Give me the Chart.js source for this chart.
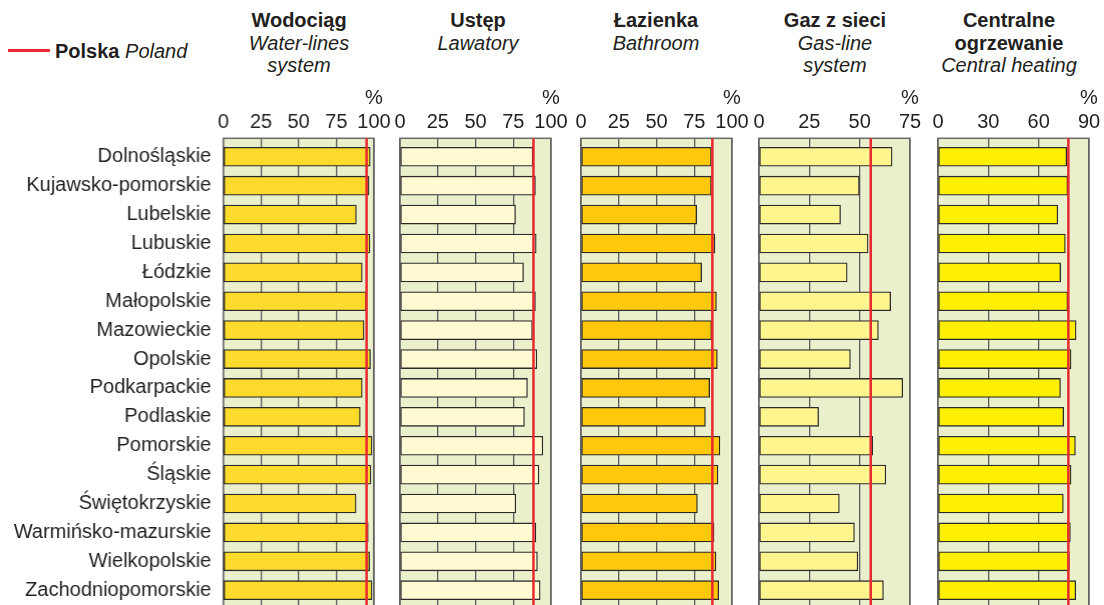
<!DOCTYPE html>
<html>
<head>
<meta charset="utf-8">
<script src="https://cdn.jsdelivr.net/npm/chart.js@4/dist/chart.umd.min.js"></script>
<style>
  html, body { margin: 0; padding: 0; background: #fff; }
  #wrap { position: relative; width: 1104px; height: 605px; overflow: hidden; font-family: "Liberation Sans", Arial, sans-serif; color: #231f20; }
  .title { position: absolute; top: 9px; width: 220px; text-align: center; font-size: 20px; line-height: 22.5px; }
  .title b { font-weight: bold; }
  .title i { font-style: italic; }
  .cv { position: absolute; top: 0; }
  #legend { position: absolute; left: 8px; top: 39px; font-size: 20px; line-height: 24px; white-space: nowrap; }
  #legend .ln { display: inline-block; width: 42px; height: 2.5px; background: #e8282e; vertical-align: middle; margin-right: 5px; position: relative; top: -2px; }
</style>
</head>
<body>
<div id="wrap">
  <div id="legend"><span class="ln"></span><b>Polska</b> <i>Poland</i></div>
  <div class="title" style="left:189px"><b>Wodociąg</b><br><i>Water-lines<br>system</i></div>
  <div class="title" style="left:368px"><b>Ustęp</b><br><i>Lawatory</i></div>
  <div class="title" style="left:546px"><b>Łazienka</b><br><i>Bathroom</i></div>
  <div class="title" style="left:725px"><b>Gaz z sieci</b><br><i>Gas-line<br>system</i></div>
  <div class="title" style="left:899px"><b>Centralne<br>ogrzewanie</b><br><i>Central heating</i></div>
  <canvas id="c1" class="cv"></canvas>
  <canvas id="c2" class="cv"></canvas>
  <canvas id="c3" class="cv"></canvas>
  <canvas id="c4" class="cv"></canvas>
  <canvas id="c5" class="cv"></canvas>
</div>
<script>
// ---- data ----
const regions = ["Dolnośląskie","Kujawsko-pomorskie","Lubelskie","Lubuskie","Łódzkie","Małopolskie","Mazowieckie","Opolskie","Podkarpackie","Podlaskie","Pomorskie","Śląskie","Świętokrzyskie","Warmińsko-mazurskie","Wielkopolskie","Zachodniopomorskie"];
const waterLines = [97.5,96.7,88.3,97.3,92.2,94.9,93.4,97.7,92.2,90.9,98.7,98.0,88.1,96.2,97.1,98.7];
const lavatory   = [88.0,89.7,76.5,90.2,81.8,89.7,87.7,90.6,84.4,82.4,94.6,92.0,76.7,90.0,91.0,92.8];
const bathroom   = [86.3,86.3,76.6,88.7,79.9,89.7,86.5,90.3,85.2,82.4,92.0,90.7,77.1,88.1,89.4,91.2];
const gasLine    = [66.1,49.8,40.5,54.2,43.8,65.4,59.3,45.4,71.4,29.6,56.5,63.0,39.9,47.4,49.1,61.8];
const centralHeating = [76.7,77.3,71.4,75.9,73.1,77.3,82.3,79.3,73.0,74.9,81.9,79.3,74.7,78.9,78.3,82.1];
const polska = { water: 95.1, lavatory: 88.4, bathroom: 87.0, gas: 55.5, heating: 77.7 };
const tickLabels = {
  water: [0,25,50,75,100],
  lavatory: [0,25,50,75,100],
  bathroom: [0,25,50,75,100],
  gas: [0,25,50,75],
  heating: [0,30,60,90]
};

const FONT = "'Liberation Sans', Arial, sans-serif";
const TXT = '#231f20';

const areaPlugin = {
  id: 'areaPlugin',
  beforeDraw(chart) {
    const a = chart.chartArea, ctx = chart.ctx;
    ctx.save();
    ctx.fillStyle = '#eaefcc';
    ctx.fillRect(a.left, a.top, a.right - a.left, a.bottom - a.top);
    ctx.restore();
  },
  beforeDatasetsDraw(chart) {
    const a = chart.chartArea, ctx = chart.ctx;
    ctx.save();
    ctx.strokeStyle = '#6b6b6b';
    ctx.lineWidth = 1.5;
    ctx.strokeRect(a.left, a.top, a.right - a.left, a.bottom - a.top);
    ctx.restore();
  },
  afterDatasetsDraw(chart, args, opts) {
    const a = chart.chartArea, ctx = chart.ctx;
    const x = chart.scales.x.getPixelForValue(opts.value);
    ctx.save();
    ctx.strokeStyle = '#e8282e';
    ctx.lineWidth = 2.5;
    ctx.beginPath();
    ctx.moveTo(x, a.top);
    ctx.lineTo(x, a.bottom);
    ctx.stroke();
    ctx.restore();
  }
};

function makePanel(id, values, color, ticks, refValue, areaLeft, showLabels) {
  const areaWidth = 151;
  const padL = showLabels ? 0 : 14;
  const padR = 24;
  const yAxisW = showLabels ? areaLeft : 0;
  const canvasLeft = showLabels ? 0 : areaLeft - padL;
  const width = yAxisW + padL + areaWidth + padR;
  const height = showLabels ? 635 : 611;
  const cv = document.getElementById(id);
  cv.style.left = canvasLeft + 'px';
  cv.style.width = width + 'px';
  cv.style.height = height + 'px';
  cv.width = width; cv.height = height;
  const maxV = ticks[ticks.length - 1];
  new Chart(cv, {
    type: 'bar',
    data: {
      datasets: [{
        data: values.map((v, i) => ({ x: v, y: i })),
        backgroundColor: color,
        borderColor: '#2b2b2b',
        borderWidth: 1.3,
        borderSkipped: false,
        barThickness: 19
      }]
    },
    options: {
      indexAxis: 'y',
      responsive: false,
      animation: false,
      devicePixelRatio: 1,
      layout: { padding: { left: padL, right: padR, top: 0, bottom: 0 } },
      plugins: { legend: { display: false }, tooltip: { enabled: false }, areaPlugin: { value: refValue } },
      scales: {
        x: {
          type: 'linear', position: 'top', min: 0, max: maxV,
          afterFit(s) { s.height = 138.3; },
          afterBuildTicks(s) { s.ticks = ticks.map(v => ({ value: v })); },
          grid: { color: '#5a5a5a', lineWidth: 1.3, drawTicks: false },
          border: { display: false },
          ticks: {
            padding: 4, color: TXT, font: { family: FONT, size: 20 }, maxRotation: 0, autoSkip: false,
            callback: (v) => v === maxV ? ['%', String(v)] : String(v)
          }
        },
        y: {
          type: 'linear', reverse: true, min: -0.64, max: 15.72, offset: false, bounds: 'data',
          display: showLabels,
          afterFit(s) { if (showLabels) s.width = yAxisW; },
          afterBuildTicks(s) { s.ticks = regions.map((_, i) => ({ value: i })); },
          grid: { display: false, drawTicks: false, offset: false },
          border: { display: false },
          ticks: {
            padding: 12, color: TXT, font: { family: FONT, size: 20 }, autoSkip: false,
            callback: (v) => regions[v] ?? ''
          }
        }
      }
    },
    plugins: [areaPlugin]
  });
}

makePanel('c1', waterLines, '#fddb2c', tickLabels.water, polska.water, 222.7, true);
makePanel('c2', lavatory, '#fffad2', tickLabels.lavatory, polska.lavatory, 400, false);
makePanel('c3', bathroom, '#ffc80a', tickLabels.bathroom, polska.bathroom, 581.4, false);
makePanel('c4', gasLine, '#fff58f', tickLabels.gas, polska.gas, 759.4, false);
makePanel('c5', centralHeating, '#ffef00', tickLabels.heating, polska.heating, 938.3, false);
</script>
</body>
</html>
